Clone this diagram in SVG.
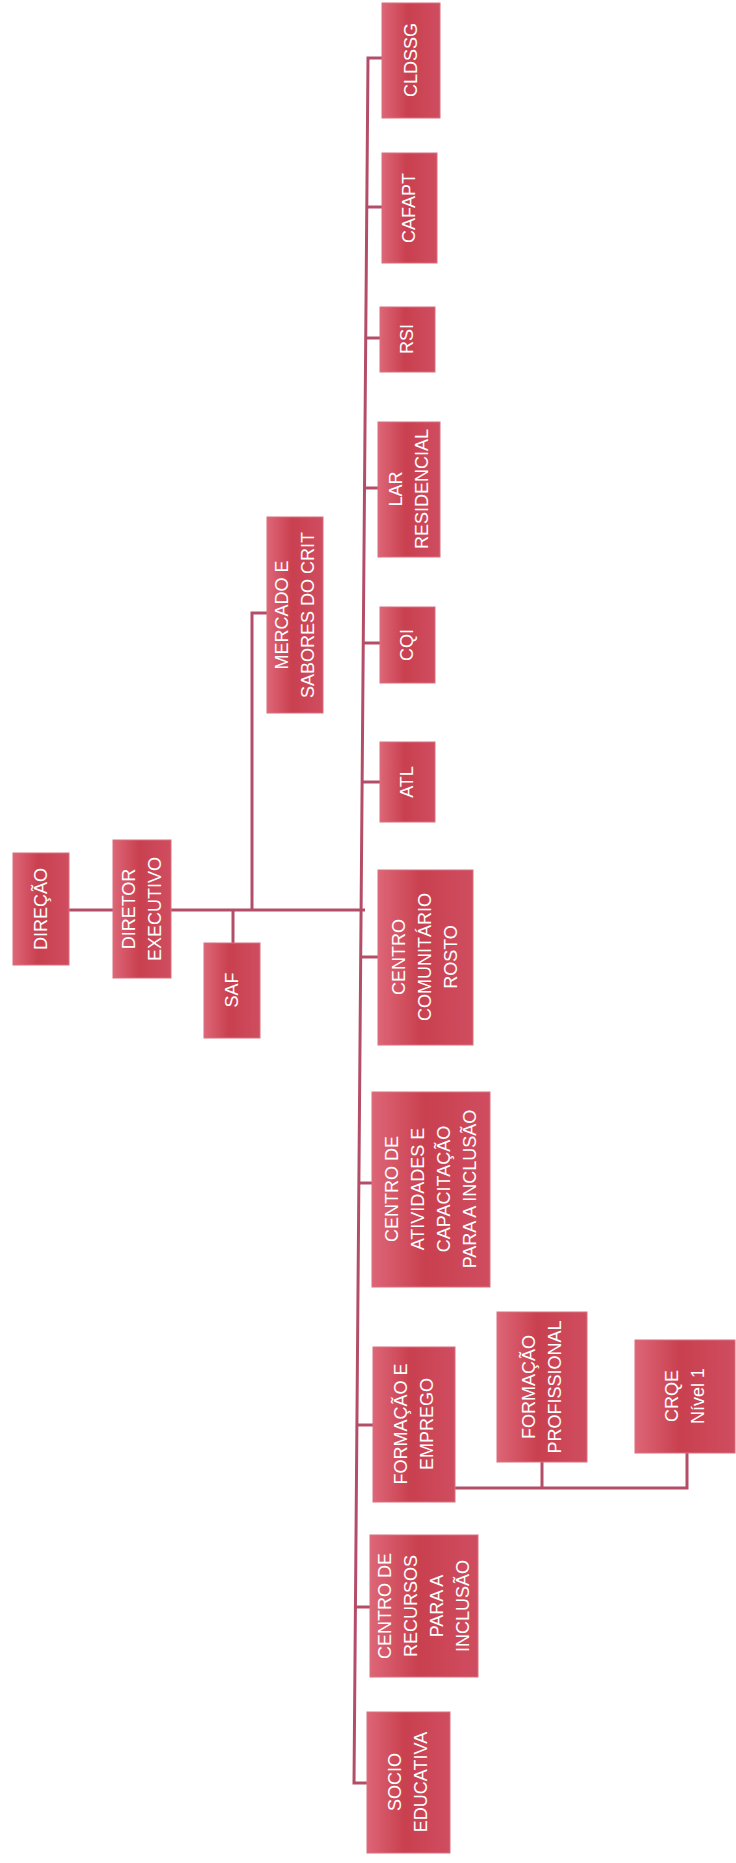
<svg xmlns="http://www.w3.org/2000/svg" width="736" height="1863" viewBox="0 0 736 1863">
<defs>
<linearGradient id="bg" x1="0" y1="0" x2="1" y2="0">
<stop offset="0" stop-color="#dd6677"/>
<stop offset="0.45" stop-color="#c9404f"/>
<stop offset="1" stop-color="#cf4d60"/>
</linearGradient>
</defs>
<style>
.box{fill:url(#bg);stroke:#d8707e;stroke-width:1}
.t{font-family:"Liberation Sans","Open Sans",sans-serif;font-size:18px;fill:#ffffff;text-anchor:middle;dominant-baseline:central}
.c{fill:none;stroke:#b44e68;stroke-width:3}
</style>
<rect width="736" height="1863" fill="#ffffff"/>
<g id="connectors">
<path class="c" d="M69,910 H365"/>
<path class="c" d="M233,910 V943"/>
<path class="c" d="M252,910 V613 H267"/>
<path class="c" d="M382,58 H368 L354,1783 H367"/>
<path class="c" d="M366,207 H382"/>
<path class="c" d="M365,338 H380"/>
<path class="c" d="M364,488 H378"/>
<path class="c" d="M363,643 H380"/>
<path class="c" d="M362,782 H380"/>
<path class="c" d="M361,957 H378"/>
<path class="c" d="M359,1183 H372"/>
<path class="c" d="M357,1425 H373"/>
<path class="c" d="M356,1607 H370"/>
<path class="c" d="M455,1488 H687 V1453"/>
<path class="c" d="M542,1462 V1488"/>
</g>
<g id="direcao"><rect class="box" x="13" y="853" width="56" height="112"/><g transform="translate(41,909) rotate(-90)"><text class="t" x="0" y="0">DIREÇÃO</text></g></g>
<g id="diretor-executivo"><rect class="box" x="113" y="840" width="58" height="138"/><g transform="translate(142,909) rotate(-90)"><text class="t" x="0" y="-13">DIRETOR</text><text class="t" x="0" y="13">EXECUTIVO</text></g></g>
<g id="saf"><rect class="box" x="204" y="943" width="56" height="95"/><g transform="translate(232,990) rotate(-90)"><text class="t" x="0" y="0">SAF</text></g></g>
<g id="mercado"><rect class="box" x="267" y="517" width="56" height="196"/><g transform="translate(295,615) rotate(-90)"><text class="t" x="0" y="-13">MERCADO E</text><text class="t" x="0" y="13">SABORES DO CRIT</text></g></g>
<g id="cldssg"><rect class="box" x="382" y="3" width="58" height="115"/><g transform="translate(411,60) rotate(-90)"><text class="t" x="0" y="0">CLDSSG</text></g></g>
<g id="cafapt"><rect class="box" x="382" y="153" width="55" height="110"/><g transform="translate(409,208) rotate(-90)"><text class="t" x="0" y="0">CAFAPT</text></g></g>
<g id="rsi"><rect class="box" x="380" y="307" width="55" height="65"/><g transform="translate(407,339) rotate(-90)"><text class="t" x="0" y="0">RSI</text></g></g>
<g id="lar"><rect class="box" x="378" y="422" width="62" height="135"/><g transform="translate(409,489) rotate(-90)"><text class="t" x="0" y="-13">LAR</text><text class="t" x="0" y="13">RESIDENCIAL</text></g></g>
<g id="cqi"><rect class="box" x="380" y="607" width="55" height="76"/><g transform="translate(407,645) rotate(-90)"><text class="t" x="0" y="0">CQI</text></g></g>
<g id="atl"><rect class="box" x="380" y="742" width="55" height="80"/><g transform="translate(407,782) rotate(-90)"><text class="t" x="0" y="0">ATL</text></g></g>
<g id="centro-comunitario"><rect class="box" x="378" y="870" width="95" height="175"/><g transform="translate(425,957) rotate(-90)"><text class="t" x="0" y="-26">CENTRO</text><text class="t" x="0" y="0">COMUNITÁRIO</text><text class="t" x="0" y="26">ROSTO</text></g></g>
<g id="centro-atividades"><rect class="box" x="372" y="1092" width="118" height="195"/><g transform="translate(431,1189) rotate(-90)"><text class="t" x="0" y="-39">CENTRO DE</text><text class="t" x="0" y="-13">ATIVIDADES E</text><text class="t" x="0" y="13">CAPACITAÇÃO</text><text class="t" x="0" y="39">PARA A INCLUSÃO</text></g></g>
<g id="formacao-emprego"><rect class="box" x="373" y="1347" width="82" height="155"/><g transform="translate(414,1424) rotate(-90)"><text class="t" x="0" y="-13">FORMAÇÃO E</text><text class="t" x="0" y="13">EMPREGO</text></g></g>
<g id="formacao-profissional"><rect class="box" x="497" y="1312" width="90" height="150"/><g transform="translate(542,1387) rotate(-90)"><text class="t" x="0" y="-13">FORMAÇÃO</text><text class="t" x="0" y="13">PROFISSIONAL</text></g></g>
<g id="crqe"><rect class="box" x="635" y="1340" width="100" height="113"/><g transform="translate(685,1396) rotate(-90)"><text class="t" x="0" y="-13">CRQE</text><text class="t" x="0" y="13">Nível 1</text></g></g>
<g id="centro-recursos"><rect class="box" x="370" y="1535" width="108" height="142"/><g transform="translate(424,1606) rotate(-90)"><text class="t" x="0" y="-39">CENTRO DE</text><text class="t" x="0" y="-13">RECURSOS</text><text class="t" x="0" y="13">PARA A</text><text class="t" x="0" y="39">INCLUSÃO</text></g></g>
<g id="socio-educativa"><rect class="box" x="367" y="1712" width="83" height="141"/><g transform="translate(408,1782) rotate(-90)"><text class="t" x="0" y="-13">SOCIO</text><text class="t" x="0" y="13">EDUCATIVA</text></g></g>
</svg>
